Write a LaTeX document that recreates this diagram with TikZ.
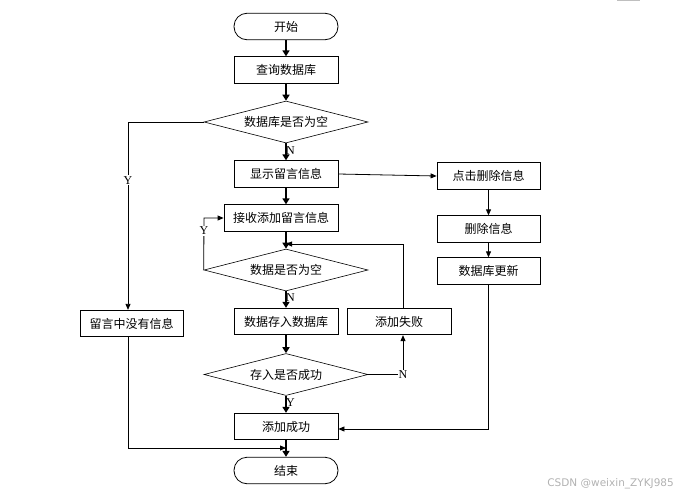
\documentclass[tikz,border=0pt]{standalone}
\usepackage{fontspec}
\setmainfont{Liberation Serif}
\newfontfamily\cjk{Noto Sans CJK SC}
\newfontfamily\wmfont{DejaVu Sans}
\usetikzlibrary{arrows.meta,shapes.geometric}
\begin{document}
\begin{tikzpicture}[x=1pt,y=-1pt,
  box/.style={draw,line width=0.8pt,minimum width=104pt,minimum height=26.5pt,inner sep=0pt,font=\cjk\fontsize{12}{14}\selectfont},
  term/.style={box,rounded corners=13pt},
  dec/.style={draw,line width=0.6pt,diamond,aspect=3.9,minimum width=164pt,minimum height=42pt,inner sep=0pt,font=\cjk\fontsize{12}{14}\selectfont},
  thick arr/.style={line width=2pt,-{Triangle[length=6pt,width=7pt]}},
  thin arr/.style={line width=0.8pt,-{Triangle[length=6pt,width=5pt]}},
  thin line/.style={line width=0.8pt},
  lab/.style={font=\fontsize{12}{14}\selectfont,fill=white,inner sep=1pt}]
\useasboundingbox (0,0) rectangle (686,498);
\draw[gray!50,line width=0.8pt] (617,0.5) -- (640,0.5);
% nodes
\node[term] (start) at (286,26.5) {开始};
\node[box] (query) at (286,70) {查询数据库};
\node[dec] (d1) at (286,122) {数据库是否为空};
\node[box] (show) at (286,174) {显示留言信息};
\node[box,minimum width=114pt] (recv) at (281,218) {接收添加留言信息};
\node[dec] (d2) at (286,270) {数据是否为空};
\node[box] (store) at (286,321.5) {数据存入数据库};
\node[box] (fail) at (399,321.5) {添加失败};
\node[dec] (d3) at (286,374.5) {存入是否成功};
\node[box] (ok) at (286,426.5) {添加成功};
\node[term] (end) at (286,470.5) {结束};
\node[box,minimum width=103pt] (none) at (131.5,323.5) {留言中没有信息};
\node[box,minimum width=103pt] (click) at (488.5,176) {点击删除信息};
\node[box,minimum width=103pt] (del) at (488.5,229) {删除信息};
\node[box,minimum width=103pt] (upd) at (488.5,271) {数据库更新};
% coordinates
\coordinate (c1) at (128,122);
\coordinate (c2) at (204,218);
\coordinate (c3) at (403,244);
\coordinate (c4) at (286,244);
\coordinate (c5) at (403,374.5);
\coordinate (c6) at (128,448);
\coordinate (c7) at (286,448);
\coordinate (c8) at (488,429);
% main spine
\draw[thick arr] (start) -- (query);
\draw[thick arr] (query) -- (d1);
\draw[thick arr] (d1) -- node[lab,pos=0.4,right=-2pt,fill=none]{N} (show);
\draw[thick arr] (show.south) -- (show.south |- recv.north);
\draw[thick arr] (recv.south -| d2.north) -- (d2);
\draw[thick arr] (d2) -- node[lab,pos=0.4,right=-2pt,fill=none]{N} (store);
\draw[thick arr] (store) -- (d3);
\draw[thick arr] (d3) -- node[lab,pos=0.4,right=-2pt,fill=none]{Y} (ok);
\draw[thick arr] (ok) -- (end);
% Y branch of d1
\draw[thin arr] (d1.west) -- (c1) -- node[lab,pos=0.31]{Y} (none.north -| c1);
\draw[thin arr] (none.south -| c1) -- (c6) -- (c7);
% Y loop of d2
\draw[thin arr] (d2.west) -- node[lab,pos=0.75]{Y} (c2) -- (recv.west);
% N of d3
\draw[thin arr] (d3.east) -- node[lab,pos=1]{N} (c5) -- (fail.south -| c5);
\draw[thin arr] (fail.north -| c3) -- (c3) -- (c4);
% delete branch
\draw[thin arr] (show.east) -- (click.west);
\draw[thin arr] (click) -- (del);
\draw[thin arr] (del) -- (upd);
\draw[thin arr] (upd.south -| c8) -- (c8) -- (ok.east |- c8);
% watermark
\node[font=\wmfont\fontsize{10.5}{12}\selectfont,text=gray!60,anchor=east,inner sep=0pt] (wm) at (674,484) {CSDN @weixin\_ZYKJ985};
\end{tikzpicture}
\end{document}
